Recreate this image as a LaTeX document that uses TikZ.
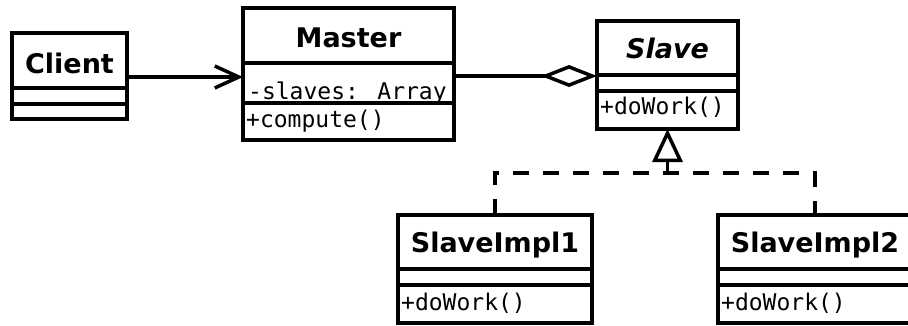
\documentclass[tikz,border=0pt]{standalone}
\usepackage{fontspec}
\setmainfont{DejaVu Sans}
\newfontfamily\monof{DejaVu Sans Mono}
\usetikzlibrary{arrows.meta}
\begin{document}
\begin{tikzpicture}[x=1pt,y=-1pt,
  cls/.style={draw, line width=3.5pt, rectangle, inner sep=0pt, outer sep=0pt, anchor=north west},
  ttl/.style={anchor=base, inner sep=0pt, font=\fontsize{27}{30}\selectfont\bfseries},
  mem/.style={anchor=base west, inner sep=0pt, font=\fontsize{23}{26}\selectfont\monof},
  link/.style={line width=3.5pt},
  dashlink/.style={line width=3.5pt, dash pattern=on 16pt off 14pt}]
\useasboundingbox (0,0) rectangle (908,325);
\clip (0,0) rectangle (908,325);

% Client
\node[cls, minimum width=115pt, minimum height=55pt] (clientH) at (12,33) {};
\node[cls, minimum width=115pt, minimum height=16pt] (clientA) at (12,88) {};
\node[cls, minimum width=115pt, minimum height=15pt] (clientO) at (12,104) {};
\node[ttl] (clientT) at (69.5,73) {Client};

% Master
\node[cls, minimum width=211pt, minimum height=55pt] (masterH) at (243,8) {};
\node[cls, minimum width=211pt, minimum height=40pt] (masterA) at (243,63) {};
\node[cls, minimum width=211pt, minimum height=37pt] (masterO) at (243,103) {};
\node[ttl] (masterT) at (348.5,47) {Master};
\node[mem] (masterAt) at (248,99) {-slaves: Array};
\node[mem] (masterOp) at (246,127) {+compute()};

% Slave
\node[cls, minimum width=141pt, minimum height=54pt] (slaveH) at (597,21) {};
\node[cls, minimum width=141pt, minimum height=16pt] (slaveA) at (597,75) {};
\node[cls, minimum width=141pt, minimum height=38pt] (slaveO) at (597,91) {};
\node[ttl, font=\fontsize{27}{30}\selectfont\bfseries\itshape] (slaveT) at (667.5,58) {Slave};
\node[mem] (slaveOp) at (600,114) {+doWork()};

% SlaveImpl1
\node[cls, minimum width=194pt, minimum height=54pt] (impl1H) at (398,215) {};
\node[cls, minimum width=194pt, minimum height=16pt] (impl1A) at (398,269) {};
\node[cls, minimum width=194pt, minimum height=38pt] (impl1O) at (398,285) {};
\node[ttl] (impl1T) at (495,252) {SlaveImpl1};
\node[mem] (impl1Op) at (401,310) {+doWork()};

% SlaveImpl2
\node[cls, minimum width=194pt, minimum height=54pt] (impl2H) at (718,215) {};
\node[cls, minimum width=194pt, minimum height=16pt] (impl2A) at (718,269) {};
\node[cls, minimum width=194pt, minimum height=38pt] (impl2O) at (718,285) {};
\node[ttl] (impl2T) at (815,252) {SlaveImpl2};
\node[mem] (impl2Op) at (721,310) {+doWork()};

% Client -> Master (navigable association)
\coordinate (cA) at (127,77);
\draw[link, -{Straight Barb[length=24pt,width=22pt]}] (cA) -- (cA -| masterA.west);

% Master <>-- Slave (aggregation)
\coordinate (mB) at (454,76);
\draw[link, -{Diamond[open,length=56pt,width=22pt]}] (mB) -- (mB -| slaveA.west);

% Realization
\coordinate (j) at (667.5,173);
\draw[dashlink] (impl1H.north) |- (j) -| (impl2H.north);
\draw[link, -{Triangle[open,length=33pt,width=30pt]}] (j) -- (slaveO.south);
\end{tikzpicture}
\end{document}
